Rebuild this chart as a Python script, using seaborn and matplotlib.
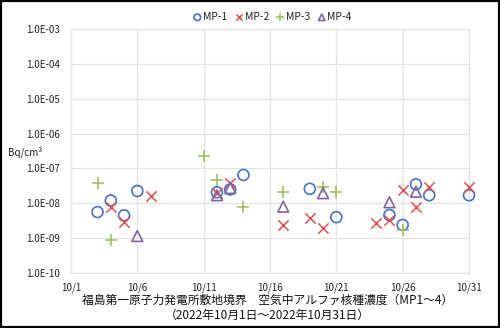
import matplotlib
matplotlib.use("Agg")
import matplotlib.pyplot as plt
import seaborn as sns
import pandas as pd
from matplotlib.patches import Rectangle

sns.set_style("white")
plt.rcParams['font.family'] = ['Noto Sans CJK JP', 'DejaVu Sans']

# ---- data (day of October 2022, concentration Bq/cm3) ----
mp1_days = [3, 4, 5, 6, 12, 13, 14, 19, 21, 25, 26, 27, 28, 31]
mp1_vals = [5.6e-9, 1.2e-8, 4.5e-9, 2.25e-8, 2.07e-8, 2.5e-8, 6.5e-8,
            2.6e-8, 4.0e-9, 4.6e-9, 2.4e-9, 3.5e-8, 1.7e-8, 1.7e-8]
mp2_days = [4, 5, 7, 12, 13, 17, 19, 20, 24, 25, 26, 27, 28, 31]
mp2_vals = [8.0e-9, 3.0e-9, 1.65e-8, 2.0e-8, 3.75e-8, 2.4e-9, 3.9e-9,
            2.0e-9, 2.8e-9, 3.3e-9, 2.4e-8, 7.7e-9, 3.0e-8, 2.9e-8]
mp3_days = [3, 4, 11, 12, 14, 17, 20, 21, 26]
mp3_vals = [3.8e-8, 8.9e-10, 2.2e-7, 4.7e-8, 8.0e-9, 2.1e-8, 2.9e-8, 2.15e-8, 1.7e-9]
mp4_days = [6, 12, 13, 17, 20, 25, 27]
mp4_vals = [1.15e-9, 1.7e-8, 2.75e-8, 8.0e-9, 1.95e-8, 1.07e-8, 2.15e-8]

series_names = ["MP-1", "MP-2", "MP-3", "MP-4"]
x_tick_days = [1, 6, 11, 16, 21, 26, 31]
x_tick_labels = ["10/1", "10/6", "10/11", "10/16", "10/21", "10/26", "10/31"]
y_tick_vals = [1e-10, 1e-9, 1e-8, 1e-7, 1e-6, 1e-5, 1e-4, 1e-3]
y_tick_labels = ["1.0E-10", "1.0E-09", "1.0E-08", "1.0E-07",
                 "1.0E-06", "1.0E-05", "1.0E-04", "1.0E-03"]
title1 = "福島第一原子力発電所敷地境界　空気中アルファ核種濃度（MP1～4）"
title2 = "（2022年10月1日～2022年10月31日）"
y_unit = "Bq/cm³"

colors = ["#4472C4", "#E0504D", "#9BBB59", "#8064A2"]

fig = plt.figure(figsize=(5.0, 3.28), dpi=100)
ax = fig.add_axes([71/500, 1-273/328, (469-71)/500, (273-29)/328])

data = [(mp1_days, mp1_vals), (mp2_days, mp2_vals), (mp3_days, mp3_vals), (mp4_days, mp4_vals)]
frames = []
for name, (d, v) in zip(series_names, data):
    frames.append(pd.DataFrame({"day": d, "val": v, "series": name}))
df = pd.concat(frames, ignore_index=True)

handles = []
styles = {
    "MP-1": dict(marker="o", s=62, facecolors="none", edgecolors=colors[0], linewidths=1.2),
    "MP-2": dict(marker="x", s=55, color=colors[1], linewidths=1.1),
    "MP-3": dict(marker="+", s=75, color=colors[2], linewidths=1.1),
    "MP-4": dict(marker="^", s=60, facecolors="none", edgecolors=colors[3], linewidths=1.2),
}
for name in series_names:
    sub = df[df["series"] == name]
    sc = ax.scatter(sub["day"], sub["val"], label=name, zorder=3, clip_on=False, **styles[name])
    handles.append(sc)

ax.set_yscale("log")
ax.set_xlim(1, 31)
ax.set_ylim(1e-10, 1e-3)
ax.set_xticks(x_tick_days)
ax.set_xticklabels(x_tick_labels)
ax.set_yticks(y_tick_vals)
ax.set_yticklabels(y_tick_labels)
ax.minorticks_off()
ax.tick_params(axis="both", length=0, labelsize=7, colors="#222222", pad=8)
ax.tick_params(axis="x", pad=7)
ax.grid(True, color="#E3E3E3", linewidth=0.9)
ax.set_axisbelow(True)
for sp in ax.spines.values():
    sp.set_color("#E3E3E3")
    sp.set_linewidth(0.9)
ax.set_xlabel("")
ax.set_ylabel("")

fig.legend(handles=handles, labels=series_names, loc="center", ncol=4,
           bbox_to_anchor=(272/500, 1-17/328), frameon=False, fontsize=7.5,
           handletextpad=0.05, columnspacing=0.6, handlelength=1.0,
           markerscale=0.6)

fig.text(8/500, 1-152/328, y_unit, fontsize=7, ha="left", va="center", color="#222222")
fig.text(268/500, 1-300/328, title1, fontsize=8.5, ha="center", va="center", color="#111111")
fig.text(267/500, 1-315/328, title2, fontsize=8.5, ha="center", va="center", color="#111111")

fig.patches.append(Rectangle((0, 0), 1, 1, transform=fig.transFigure, fill=False,
                             edgecolor="black", linewidth=3.0))

fig.savefig("out.png", dpi=100)
